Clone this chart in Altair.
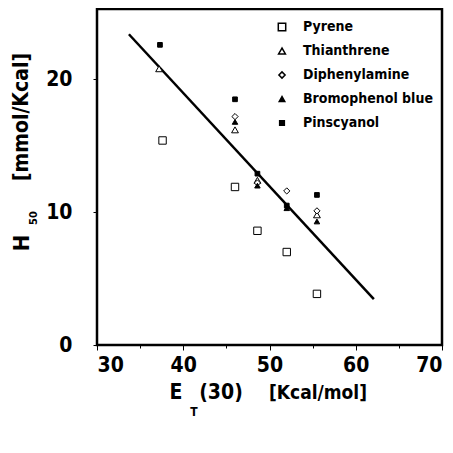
import altair as alt
import pandas as pd

series_order = ["Pyrene", "Thianthrene", "Diphenylamine", "Bromophenol  blue", "Pinscyanol"]

pyrene_x = [37.6, 46.0, 48.6, 52.0, 55.5]
pyrene_y = [15.4, 11.9, 8.6, 7.0, 3.85]
thian_x = [37.2, 46.0, 48.6, 55.5]
thian_y = [20.8, 16.2, 12.4, 9.8]
diph_x = [46.0, 48.6, 52.0, 55.5]
diph_y = [17.2, 12.2, 11.6, 10.1]
brom_x = [46.0, 48.6, 52.0, 55.5]
brom_y = [16.8, 12.0, 10.3, 9.3]
pinsc_x = [37.3, 46.0, 48.6, 52.0, 55.5]
pinsc_y = [22.6, 18.5, 12.9, 10.5, 11.3]

fit_x = [33.7, 62.1]
fit_y = [23.4, 3.45]

x_ticks = [30, 40, 50, 60, 70]
x_minor = [35, 45, 55, 65]
y_ticks = [0, 10, 20]

rows = []
for name, xs, ys in [
    (series_order[0], pyrene_x, pyrene_y),
    (series_order[1], thian_x, thian_y),
    (series_order[2], diph_x, diph_y),
    (series_order[3], brom_x, brom_y),
    (series_order[4], pinsc_x, pinsc_y),
]:
    for a, b in zip(xs, ys):
        rows.append({"et": a, "h": b, "series": name})
df = pd.DataFrame(rows)
fit_df = pd.DataFrame({"et": fit_x, "h": fit_y})

FONT = "DejaVu Sans Condensed, Liberation Sans Narrow, Liberation Sans"

xscale = alt.Scale(domain=[30, 70], nice=False, zero=False)
yscale = alt.Scale(domain=[0, 25.3], nice=False)

xaxis = alt.Axis(values=x_ticks, title=None, grid=False, domain=False, orient="bottom",
                 tickColor="black", tickSize=5, labelFont=FONT, labelFontSize=21,
                 labelFontWeight="bold", labelColor="black", labelPadding=4)
xaxis_minor = alt.Axis(values=x_minor, title=None, grid=False, domain=False,
                       orient="bottom", labels=False, tickColor="black", tickSize=3)
yaxis = alt.Axis(values=y_ticks, title=None, grid=False, domain=False,
                 tickColor="black", tickSize=4, labelFont=FONT, labelFontSize=21,
                 labelFontWeight="bold", labelColor="black", labelPadding=21)

leg = alt.Legend(title=None, orient="none", legendX=178, legendY=11,
                 labelFont=FONT, labelFontSize=14, labelFontWeight="bold",
                 labelColor="black", rowPadding=10, labelOffset=14, padding=0)

points = alt.Chart(df).mark_point(filled=False, strokeWidth=1, opacity=1).encode(
    x=alt.X("et:Q", scale=xscale, axis=xaxis),
    y=alt.Y("h:Q", scale=yscale, axis=yaxis),
    shape=alt.Shape("series:N", scale=alt.Scale(domain=series_order,
                    range=["square", "triangle-up", "diamond", "triangle-up", "square"]),
                    legend=leg),
    fill=alt.Fill("series:N", scale=alt.Scale(domain=series_order,
                  range=["white", "white", "white", "black", "black"]), legend=leg),
    stroke=alt.Stroke("series:N", scale=alt.Scale(domain=series_order,
                  range=["black", "black", "black", "black", "black"]), legend=leg),
    size=alt.Size("series:N", scale=alt.Scale(domain=series_order,
                  range=[55, 22, 28, 22, 70]), legend=leg),
)

line = alt.Chart(fit_df).mark_line(color="black", strokeWidth=2.5).encode(
    x=alt.X("et:Q", scale=xscale, axis=xaxis_minor),
    y=alt.Y("h:Q", scale=yscale, axis=yaxis),
)

def label(text, px, py, size, angle=0):
    return alt.Chart(pd.DataFrame({"t": [text]})).mark_text(
        font=FONT, fontSize=size, fontWeight="bold", color="black",
        align="center", baseline="middle", angle=angle,
    ).encode(text="t:N", x=alt.value(px), y=alt.value(py))

titles = [
    label("E", 79, 384, 21),
    label("T", 97, 403, 12),
    label("(30)", 124, 384, 21),
    label("[Kcal/mol]", 221, 384, 19),
    label("H", -75, 234, 22, 270),
    label("50", -63, 209, 11, 270),
    label("[mmol/Kcal]", -75, 108, 21, 270),
]

chart = alt.layer(line, points, *titles).resolve_axis(x="independent").properties(
    width=345, height=336,
    autosize=alt.AutoSizeParams(type="none"),
    padding={"left": 89, "top": 1, "right": 3, "bottom": 100},
).configure(background="white").configure_view(stroke="black", strokeWidth=2.5)

chart.save("out.html", embed_options={"renderer": "svg", "actions": False})
